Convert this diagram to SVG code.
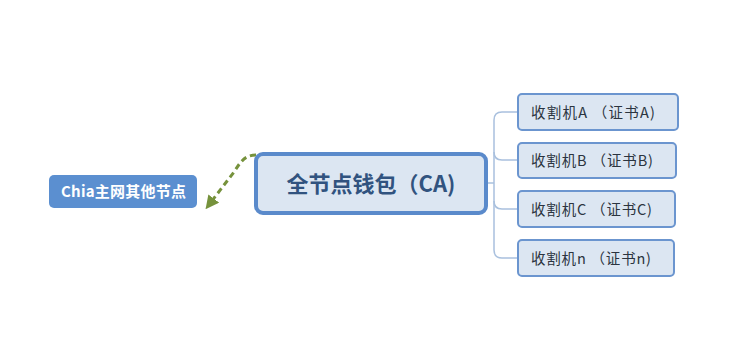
<svg xmlns="http://www.w3.org/2000/svg" width="746" height="363" viewBox="0 0 746 363">
<style>
.sub rect{fill:#dce6f2;stroke:#6b95cf;stroke-width:2}
.sub text{font-family:"Microsoft YaHei","Noto Sans CJK SC",sans-serif;font-size:14.5px;fill:#2b3440}
.br{fill:none;stroke:#a9c0de;stroke-width:1.5}
</style>
<defs>
<marker id="arr" viewBox="0 0 10 10" refX="7" refY="5" markerWidth="4.5" markerHeight="4.5" orient="auto">
<path d="M0,0 L10,5 L0,10 z" fill="#76923c"/>
</marker>
</defs>
<rect width="746" height="363" fill="#fff"/>
<g id="connectors">
<path class="br" d="M487,183 H494"/>
<path class="br" d="M518,112 H502 Q494,112 494,120 V250 Q494,258 502,258 H518"/>
<path class="br" d="M518,160 H502 Q494,160 494,152"/>
<path class="br" d="M518,209 H502 Q494,209 494,201"/>
<path d="M256,155 C244,155 240,163 234,172 L208,206" fill="none" stroke="#76923c" stroke-width="3" stroke-dasharray="6,4" marker-end="url(#arr)"/>
</g>
<g id="center">
<rect x="256" y="154" width="230" height="59" rx="7" fill="#dce6f2" stroke="#5a8acb" stroke-width="4"/>
<text x="371" y="192" text-anchor="middle" font-family="Microsoft YaHei,'Noto Sans CJK SC',sans-serif" font-size="22" font-weight="bold" fill="#31537f">全节点钱包（CA)</text>
</g>
<g id="chia">
<rect x="49" y="175" width="148" height="33" rx="5" fill="#5b8fd0"/>
<text x="61" y="197" textLength="125" lengthAdjust="spacing" font-family="Microsoft YaHei,'Noto Sans CJK SC',sans-serif" font-size="15" font-weight="bold" fill="#fff">Chia主网其他节点</text>
</g>
<g id="nodeA" class="sub">
<rect x="518" y="94" width="160" height="36" rx="4"/>
<text x="531" y="118" textLength="124" lengthAdjust="spacing">收割机A （证书A)</text>
</g>
<g id="nodeB" class="sub">
<rect x="518" y="143" width="158" height="35" rx="4"/>
<text x="531" y="166" textLength="122" lengthAdjust="spacing">收割机B （证书B)</text>
</g>
<g id="nodeC" class="sub">
<rect x="518" y="191" width="157" height="36" rx="4"/>
<text x="531" y="215" textLength="121" lengthAdjust="spacing">收割机C （证书C)</text>
</g>
<g id="nodeN" class="sub">
<rect x="518" y="240" width="156" height="36" rx="4"/>
<text x="531" y="264" textLength="120" lengthAdjust="spacing">收割机n （证书n)</text>
</g>
</svg>
